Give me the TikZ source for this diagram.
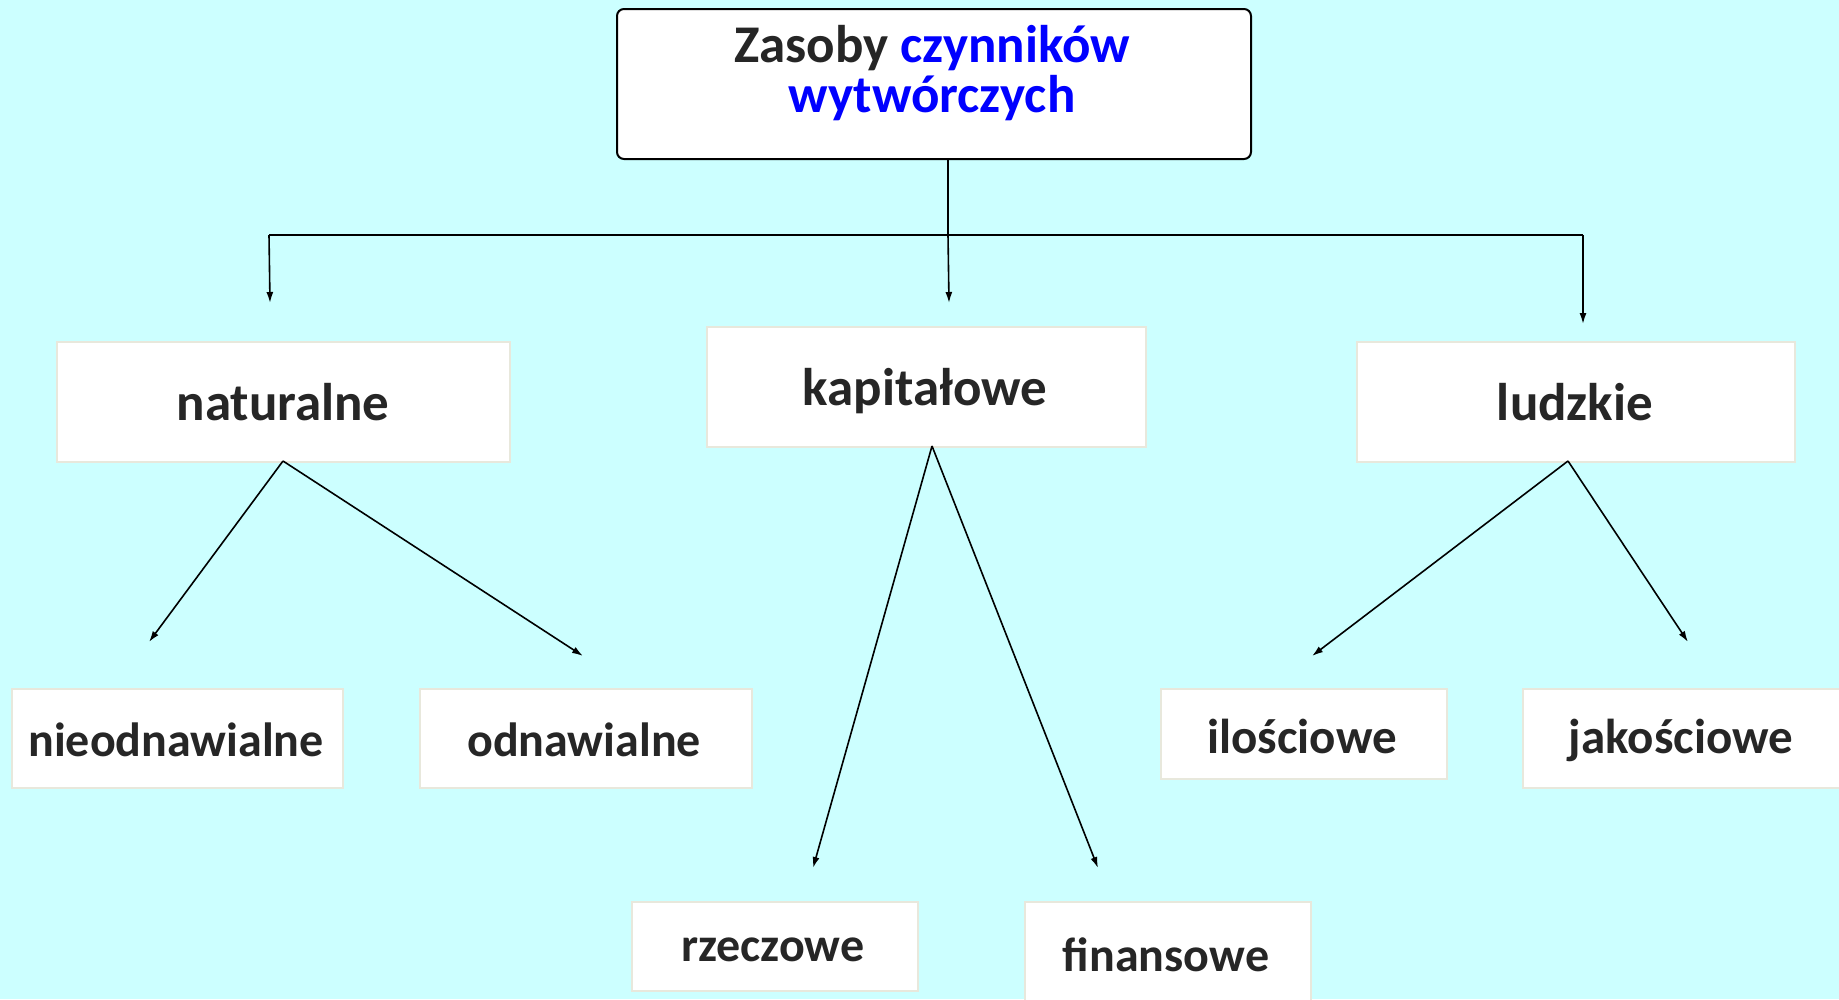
\documentclass[tikz,border=0pt]{standalone}
\usepackage{fontspec}
\setmainfont{Carlito}
\usetikzlibrary{arrows.meta}
\definecolor{bgcyan}{HTML}{CCFFFF}
\definecolor{txtdark}{HTML}{262626}
\definecolor{boxedge}{HTML}{E8E8DC}
\begin{document}
\begin{tikzpicture}[x=1pt,y=-1pt,
  leaf/.style={draw=boxedge,line width=1.5pt,fill=white,inner sep=0pt,anchor=north west},
  bigtxt/.style={text=txtdark,font=\fontsize{53}{50}\selectfont\bfseries},
  smalltxt/.style={text=txtdark,font=\fontsize{48}{50}\selectfont\bfseries},
  conn/.style={line width=1.6pt,-{Latex[length=11pt,width=7pt]}},
  plain/.style={line width=1.6pt}]
\fill[bgcyan] (0,0) rectangle (1839,999);
\useasboundingbox (0,0) rectangle (1839,999);
% top box
\node[draw=black,line width=2pt,rounded corners=7pt,fill=white,minimum width=634pt,minimum height=150pt,anchor=north west,inner sep=0pt] (top) at (616,8) {};
\node[font=\fontsize{53}{50}\selectfont\bfseries,align=center,anchor=center] (title) at (932,73)
  {\textcolor{txtdark}{Zasoby} \textcolor{blue}{czynników}\\\textcolor{blue}{wytwórczych}};
% level 1
\node[leaf,minimum width=453pt,minimum height=120pt] (nat) at (56,341) {};
\node[bigtxt] (natt) at (283,402) {naturalne};
\node[leaf,minimum width=439pt,minimum height=120pt] (kap) at (706,326) {};
\node[bigtxt] (kapt) at (925,391) {kapitałowe};
\node[leaf,minimum width=438pt,minimum height=120pt] (lud) at (1356,341) {};
\node[bigtxt] (ludt) at (1575,402) {ludzkie};
% level 2
\node[leaf,minimum width=331pt,minimum height=99pt] (nie) at (11,688) {};
\node[smalltxt] (niet) at (176,740) {nieodnawialne};
\node[leaf,minimum width=332pt,minimum height=99pt] (odn) at (419,688) {};
\node[smalltxt] (odnt) at (584,740) {odnawialne};
\node[leaf,minimum width=286pt,minimum height=90pt] (ilo) at (1160,688) {};
\node[smalltxt,font=\fontsize{49}{50}\selectfont\bfseries] (ilot) at (1302,736) {ilościowe};
\node[leaf,minimum width=330pt,minimum height=99pt] (jak) at (1522,688) {};
\node[smalltxt,font=\fontsize{49}{50}\selectfont\bfseries] (jakt) at (1681,740) {jakościowe};
\node[leaf,minimum width=286pt,minimum height=89pt] (rze) at (631,901) {};
\node[smalltxt] (rzet) at (773,950) {rzeczowe};
\node[leaf,minimum width=286pt,minimum height=110pt] (fin) at (1024,901) {};
\node[smalltxt] (fint) at (1166,955) {finansowe};
% connector points
\coordinate (tb) at (948,158);
\coordinate (j) at (948,235);
\coordinate (jl) at (269,235);
\coordinate (jr) at (1583,235);
\coordinate (al) at (270,303);
\coordinate (am) at (949,303);
\coordinate (ar) at (1583,324);
\coordinate (nats) at (283,461);
\coordinate (kaps) at (932,446);
\coordinate (luds) at (1568,461);
\coordinate (a1) at (149,642);
\coordinate (a2) at (583,656);
\coordinate (a3) at (813,868);
\coordinate (a4) at (1098,868);
\coordinate (a5) at (1312,656);
\coordinate (a6) at (1688,642);
\draw[plain] (tb) -- (j);
\draw[plain] (jl) -- (jr);
\draw[conn] (j) -- (am);
\draw[conn] (jl) -- (al);
\draw[conn] (jr) -- (ar);
\draw[conn] (nats) -- (a1);
\draw[conn] (nats) -- (a2);
\draw[conn] (kaps) -- (a3);
\draw[conn] (kaps) -- (a4);
\draw[conn] (luds) -- (a5);
\draw[conn] (luds) -- (a6);
\end{tikzpicture}
\end{document}
